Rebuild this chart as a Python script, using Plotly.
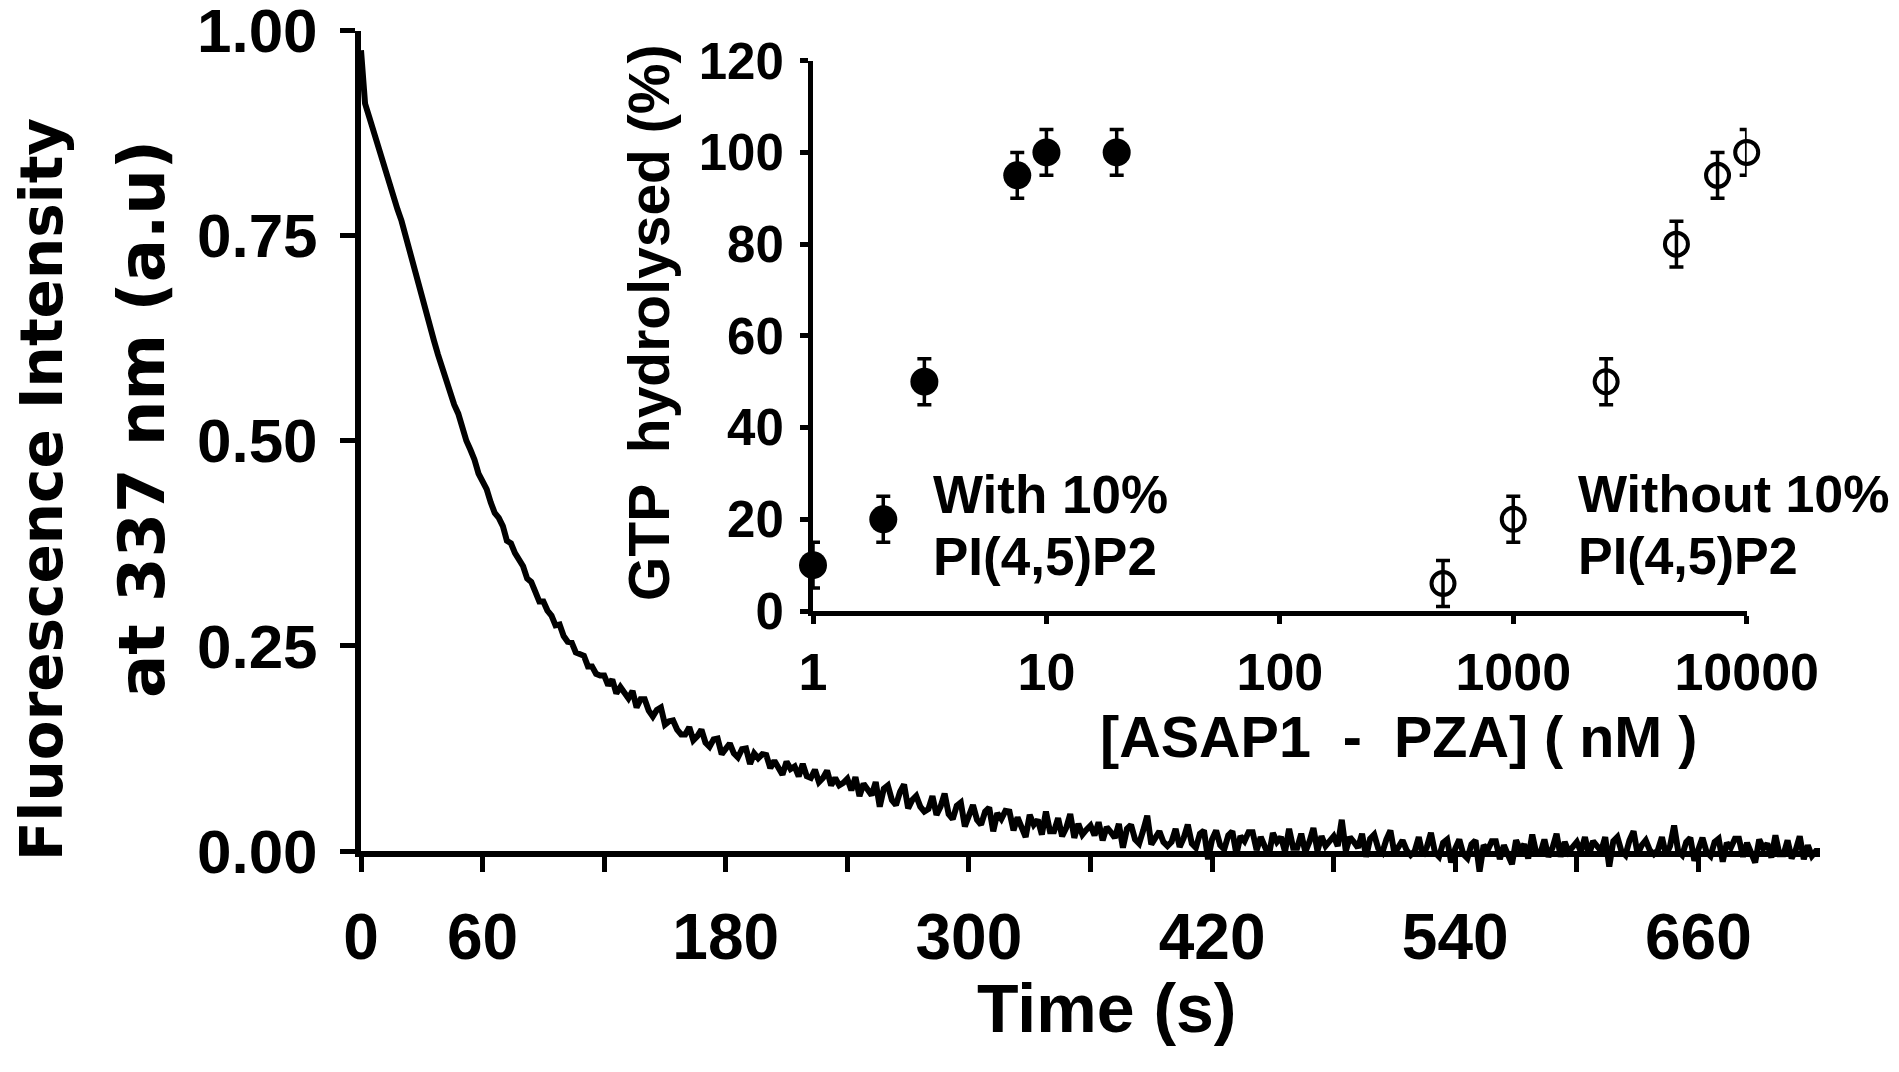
import plotly.graph_objects as go

W, H = 1899, 1072

# ---------------- data: main fluorescence trace (2 s sampling) -------------
time_s = list(range(0, 721, 2))
fluor_milli = [
    976, 911, 895, 878, 861, 845, 828, 812, 797, 782, 768, 749, 731, 714, 696, 674, 657, 641, 622, 605,
    589, 576, 557, 544, 533, 515, 500, 489, 477, 460, 450, 441, 425, 412, 406, 396, 378, 375, 363, 356,
    347, 332, 328, 316, 304, 304, 293, 287, 275, 276, 262, 255, 254, 242, 239, 238, 225, 225, 216, 214,
    214, 202, 209, 192, 200, 193, 186, 195, 175, 185, 185, 171, 164, 172, 175, 154, 158, 159, 148, 142,
    142, 151, 135, 140, 148, 132, 127, 136, 137, 118, 126, 131, 119, 114, 124, 125, 106, 119, 113, 118,
    117, 101, 110, 101, 93, 109, 100, 103, 91, 106, 91, 89, 99, 84, 89, 98, 80, 89, 80, 83,
    88, 74, 90, 67, 82, 75, 68, 84, 54, 76, 80, 62, 56, 72, 81, 52, 62, 67, 54, 48,
    51, 67, 44, 54, 70, 45, 39, 55, 59, 30, 46, 56, 38, 32, 48, 53, 24, 46, 39, 49,
    48, 25, 41, 29, 17, 44, 32, 38, 20, 48, 24, 24, 40, 18, 28, 45, 16, 33, 20, 26,
    31, 19, 35, 13, 29, 23, 16, 33, 4, 27, 32, 14, 9, 25, 43, 8, 18, 24, 11, 6,
    11, 27, 5, 16, 32, 9, 4, 21, 25, -10, 14, 25, 7, 2, 19, 24, -4, 18, 12, 23,
    23, 1, 17, 5, -6, 22, 11, 17, -1, 27, 4, 4, 21, -1, 11, 28, 0, 18, 6, 12,
    18, 6, 38, 0, 17, 11, 4, 21, -7, 15, 20, 3, -2, 14, 25, -3, 7, 13, 1, -5,
    0, 17, -6, 5, 22, -2, -7, 10, 14, -14, 3, 14, -4, -9, 8, 13, -25, 7, 1, 12,
    12, -10, 7, -5, -16, 13, 2, 8, -9, 20, -3, -3, 14, -7, 4, 21, -7, 11, -1, 5,
    11, -1, 17, -5, 12, 6, 0, 17, -19, 12, 17, 0, -5, 13, 24, -4, 7, 13, 1, -4,
    1, 17, -5, 6, 31, 0, -5, 11, 16, -12, 5, 16, -1, -6, 11, 15, -13, 10, 4, 15,
    15, -7, 10, -3, -14, 14, 3, 9, -8, 19, -4, -4, 13, -9, 1, 18, -10, 7, -6, 0,
    0,
]
fluor = [v / 1000 for v in fluor_milli]

time_tickvals = [0, 60, 120, 180, 240, 300, 360, 420, 480, 540, 600, 660]
time_ticktext = ["0", "60", "", "180", "", "300", "", "420", "", "540", "", "660"]
fluor_tickvals = [0, 0.25, 0.5, 0.75, 1.0]
fluor_ticktext = ["0.00", "0.25", "0.50", "0.75", "1.00"]

# ---------------- data: inset ----------------
with_conc = [1, 2, 3, 7.5, 10, 20]
with_pct = [10, 20, 50, 95, 100, 100]
with_err = [5, 5, 5, 5, 5, 5]
without_conc = [500, 1000, 2500, 5000, 7500, 10000]
without_pct = [6, 20, 50, 80, 95, 100]
without_err = [5, 5, 5, 5, 5, 5]
conc_tickvals = [1, 10, 100, 1000, 10000]
conc_ticktext = ["1", "10", "100", "1000", "10000"]
pct_tickvals = [0, 20, 40, 60, 80, 100, 120]

# ---------------- layout geometry (page pixels -> paper; page body has an 8 px margin) ----------
OFF = 8

def fx(p):
    return (p - OFF) / W

def fy(p):
    return 1 - (p - OFF) / H

MAIN_X = [fx(361), fx(1820)]
MAIN_Y = [fy(851), fy(30.5)]
main_h_px = (MAIN_Y[1] - MAIN_Y[0]) * H
EXT_PX = 40
INSET_X = [fx(813), fx(1746.7)]
INSET_Y = [fy(611), fy(60.7)]

BOLD = "Liberation Sans, Arial, sans-serif"
WIDE = "DejaVu Sans, Liberation Sans, sans-serif"

fig = go.Figure()

# empty trace to create the main axes subplot
fig.add_trace(go.Scatter(x=[], y=[], xaxis="x", yaxis="y", showlegend=False, hoverinfo="skip"))

# inset traces
fig.add_trace(go.Scatter(
    x=with_conc, y=with_pct, mode="markers", xaxis="x2", yaxis="y2",
    marker=dict(symbol="circle", size=28, color="black"),
    error_y=dict(type="data", array=with_err, thickness=3.5, width=7, color="black"),
    cliponaxis=False, showlegend=False,
))
fig.add_trace(go.Scatter(
    x=without_conc, y=without_pct, mode="markers", xaxis="x2", yaxis="y2",
    marker=dict(symbol="circle-open", size=23, color="black", line=dict(width=4, color="black")),
    error_y=dict(type="data", array=without_err, thickness=3.5, width=7, color="black"),
    cliponaxis=False, showlegend=False,
))

# main trace on an invisible overlay subplot extended slightly below zero
fig.add_trace(go.Scatter(
    x=time_s, y=fluor, mode="lines", xaxis="x3", yaxis="y3",
    line=dict(color="black", width=6), showlegend=False,
))

axis_common = dict(showgrid=False, zeroline=False, showline=True, linecolor="black",
                   ticks="outside", tickcolor="black", automargin=False,
                   ticklabeloverflow="allow")

fig.update_layout(
    width=W, height=H, autosize=False,
    margin=dict(l=0, r=0, t=0, b=0, pad=0),
    paper_bgcolor="white", plot_bgcolor="rgba(0,0,0,0)",
    xaxis=dict(domain=MAIN_X, range=[0, 720], anchor="y",
               tickmode="array", tickvals=time_tickvals, ticktext=time_ticktext,
               ticklen=15, tickwidth=5, linewidth=6,
               tickfont=dict(family=BOLD, size=64, color="black", weight=700),
               ticklabelstandoff=10, **axis_common),
    yaxis=dict(domain=MAIN_Y, range=[0, 1], anchor="x",
               tickmode="array", tickvals=fluor_tickvals, ticktext=fluor_ticktext,
               ticklen=15, tickwidth=5, linewidth=6,
               tickfont=dict(family=BOLD, size=62, color="black", weight=700),
               ticklabelstandoff=10, **axis_common),
    xaxis2=dict(domain=INSET_X, type="log", range=[0, 4], anchor="y2",
                tickmode="array", tickvals=conc_tickvals, ticktext=conc_ticktext,
                ticklen=8, tickwidth=5, linewidth=5,
                tickfont=dict(family=BOLD, size=52, color="black", weight=700),
                ticklabelstandoff=4, **axis_common),
    yaxis2=dict(domain=INSET_Y, range=[0, 120], anchor="x2",
                tickmode="array", tickvals=pct_tickvals,
                ticklen=8, tickwidth=5, linewidth=5,
                tickfont=dict(family=BOLD, size=51, color="black", weight=700),
                ticklabelstandoff=6, **axis_common),
    xaxis3=dict(domain=MAIN_X, range=[0, 720], anchor="y3", visible=False),
    yaxis3=dict(domain=[MAIN_Y[0] - EXT_PX / H, MAIN_Y[1]],
                range=[-EXT_PX / main_h_px, 1], anchor="x3", visible=False),
)

annotations = [
    dict(text="Time (s)", x=fx(1106), y=fy(1008), font=dict(family=BOLD, size=68, weight=700)),
    dict(text="Fluorescence Intensity", x=fx(42), y=fy(490), textangle=-90,
         font=dict(family=WIDE, size=58, weight=700)),
    dict(text="at 337 nm (a.u)", x=fx(142), y=fy(419), textangle=-90,
         font=dict(family=WIDE, size=64, weight=700)),
    dict(text="GTP  hydrolysed (%)", x=fx(649), y=fy(323), textangle=-90,
         font=dict(family=BOLD, size=57, weight=700)),
    dict(text="[ASAP1  -  PZA] ( nM )", x=fx(1398), y=fy(737),
         font=dict(family=BOLD, size=57.5, weight=700)),
    dict(text="With 10%", x=fx(931), y=fy(494), xanchor="left",
         font=dict(family=BOLD, size=53, weight=700)),
    dict(text="PI(4,5)P2", x=fx(931), y=fy(556), xanchor="left",
         font=dict(family=BOLD, size=53, weight=700)),
    dict(text="Without 10%", x=fx(1576), y=fy(494), xanchor="left",
         font=dict(family=BOLD, size=52, weight=700)),
    dict(text="PI(4,5)P2", x=fx(1576), y=fy(556), xanchor="left",
         font=dict(family=BOLD, size=52, weight=700)),
]
for a in annotations:
    a.setdefault("xanchor", "center")
    a.setdefault("yanchor", "middle")
    a.update(xref="paper", yref="paper", showarrow=False)
    a["font"].setdefault("color", "black")
fig.update_layout(annotations=annotations)

fig.write_html("out.html")
